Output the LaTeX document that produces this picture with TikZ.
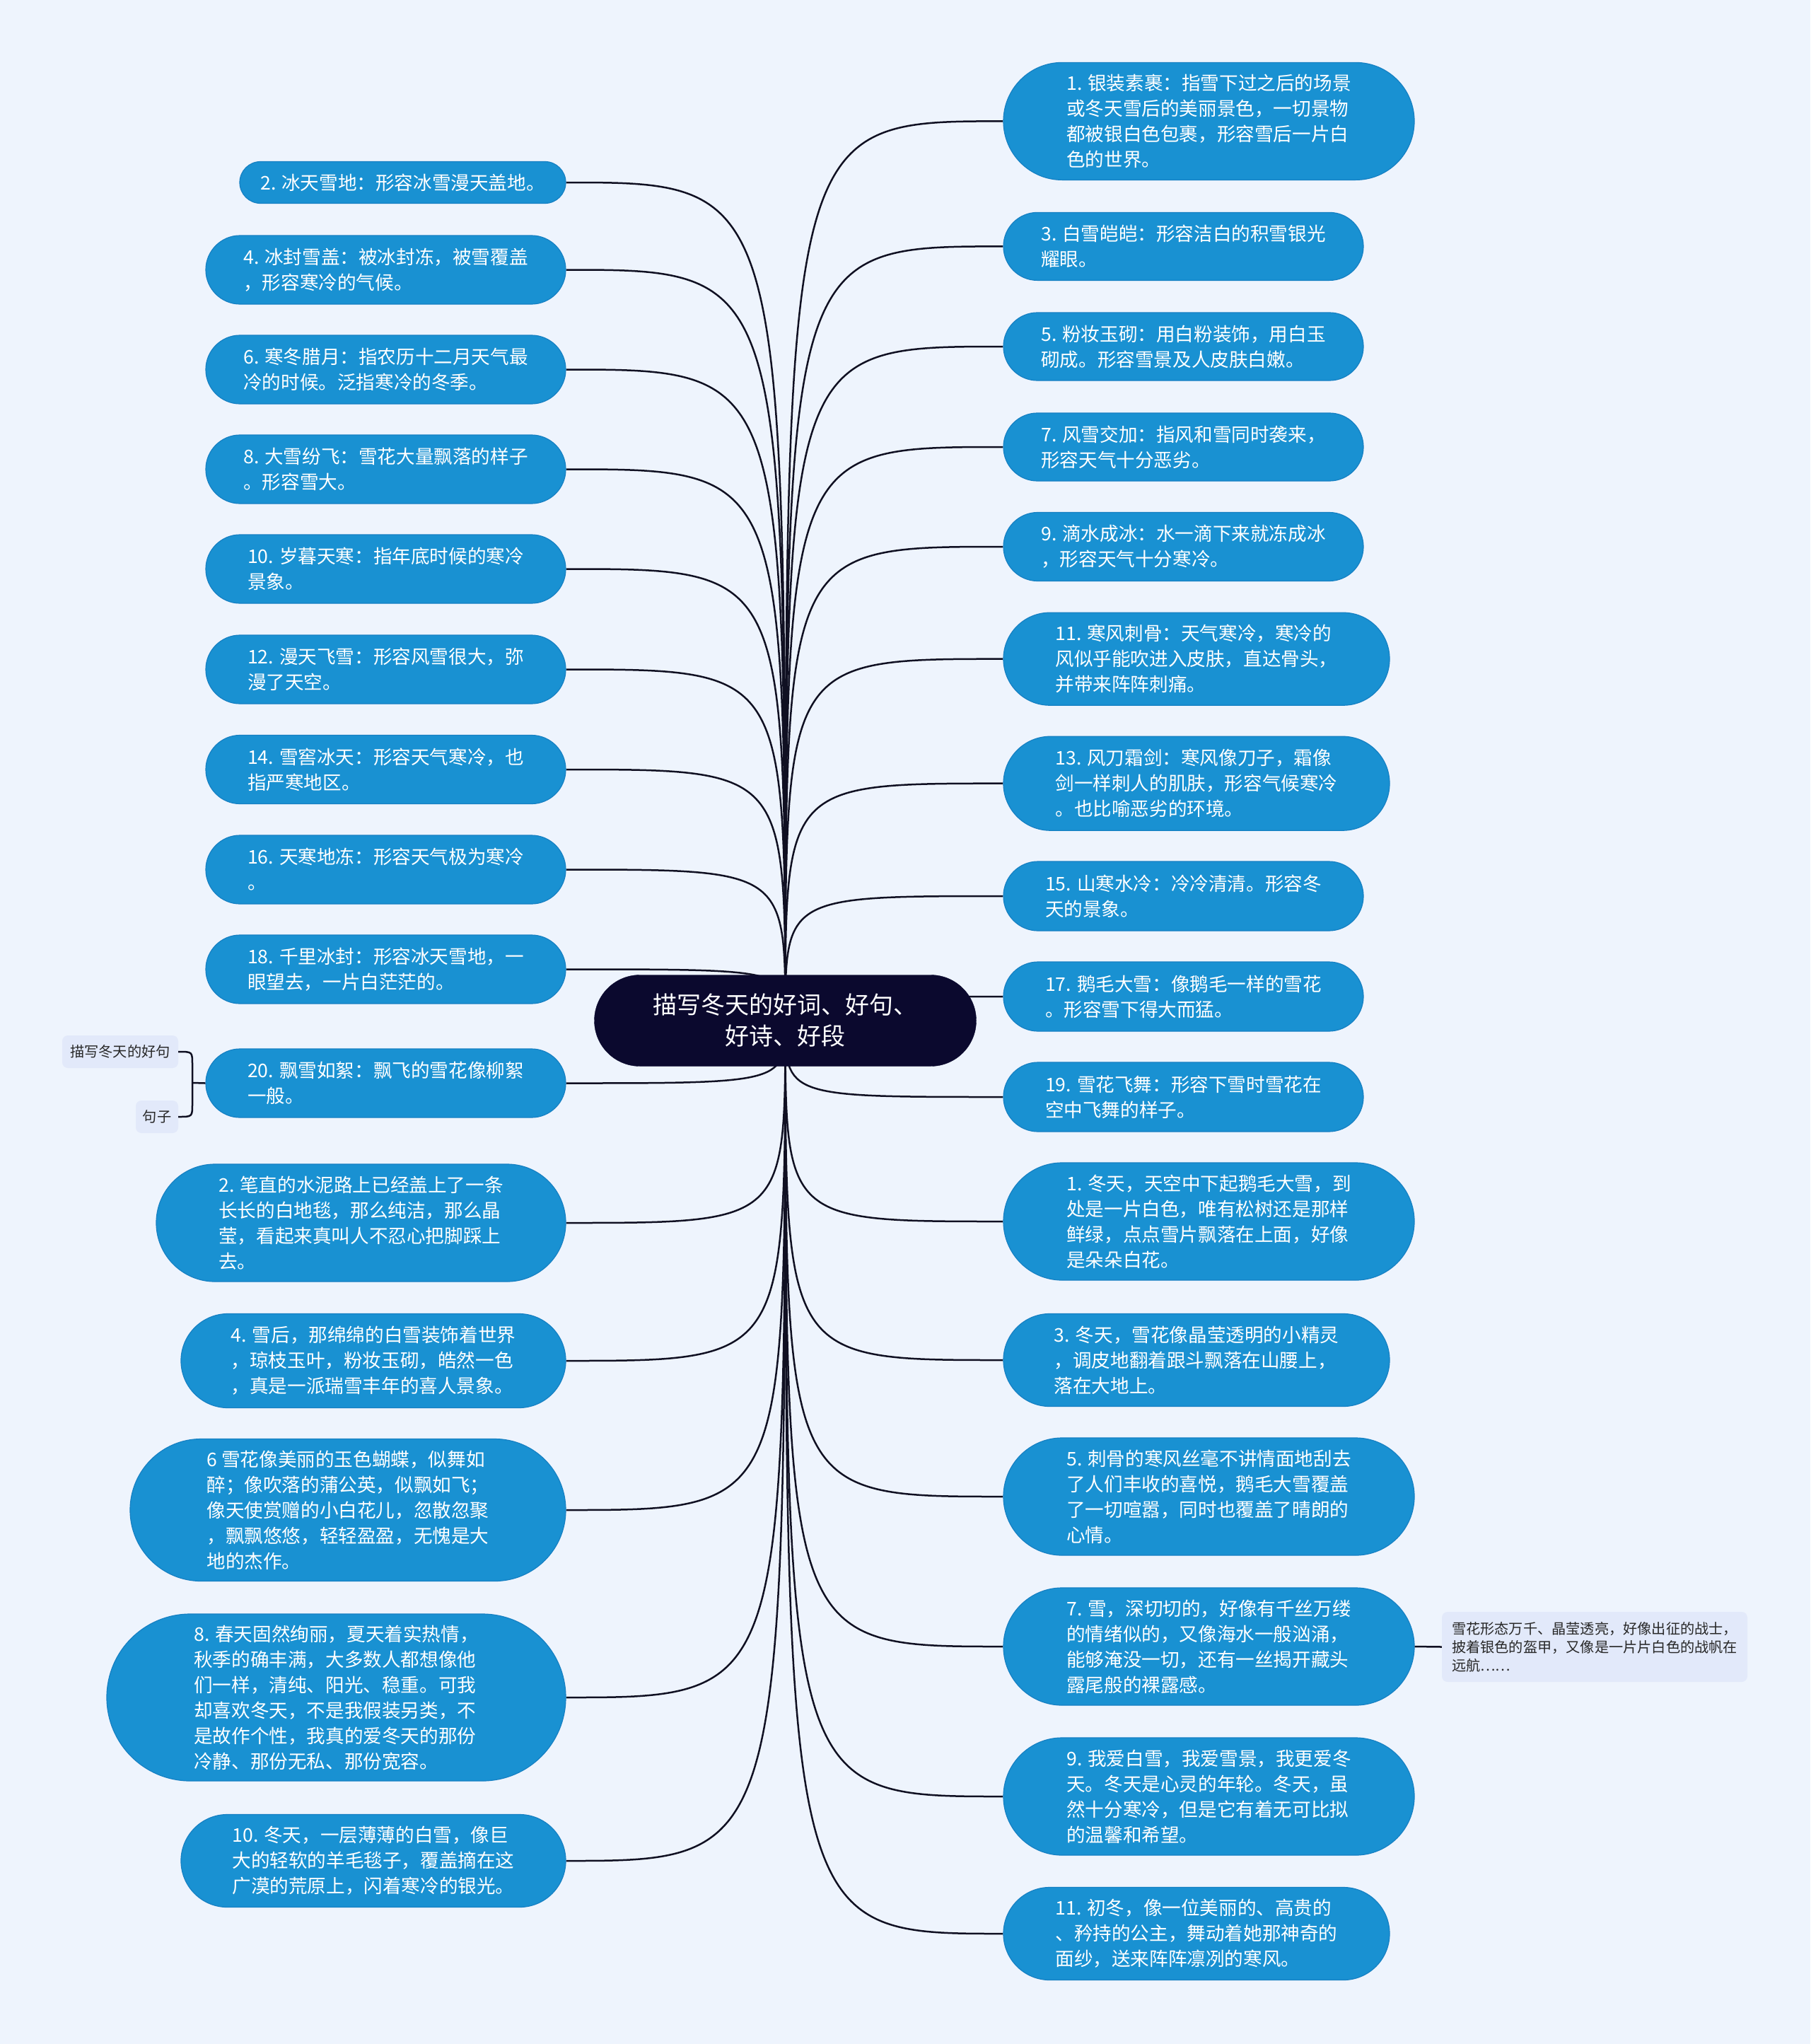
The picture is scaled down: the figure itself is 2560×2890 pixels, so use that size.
\documentclass[tikz,border=0pt]{standalone}
\usepackage{fontspec}
\newfontfamily\cjk{Noto Sans CJK SC}
\usetikzlibrary{backgrounds,calc}
\definecolor{bgc}{RGB}{238,244,253}
\definecolor{nodeblue}{RGB}{25,145,210}
\definecolor{nodeedge}{RGB}{22,128,195}
\definecolor{rootc}{RGB}{11,9,46}
\definecolor{attc}{RGB}{226,233,250}
\definecolor{attt}{RGB}{40,40,40}
\definecolor{linec}{RGB}{16,16,34}
\begin{document}
\begin{tikzpicture}[x=1pt,y=-1pt,
  leaf/.style={fill=nodeblue, draw=nodeedge, line width=1.2pt, text=white, align=left, inner sep=0pt,
    font=\cjk\fontsize{26.6}{36}\selectfont},
  pill/.style n args={3}{minimum width=#1pt, minimum height=#2pt, rounded corners=#3pt},
  rootbox/.style={fill=rootc, draw=rootc, text=white, align=center, inner sep=0pt,
    font=\cjk\fontsize{34}{44}\selectfont},
  attbox/.style={fill=attc, draw=none, text=attt, align=left, inner sep=0pt, rounded corners=8pt,
    font=\cjk\fontsize{20.2}{26}\selectfont},
  conn/.style={draw=linec, line width=2.5pt}]
\useasboundingbox (0,0) rectangle (2560,2890);

% root
\node[rootbox, pill={540}{129}{64.5}] (c) at (1110.5,1443) {描写冬天的好词、好句、\\好诗、好段};

% left words
\node[leaf, pill={461}{59}{29.5}] (L1) at (569.5,258) {2. 冰天雪地：形容冰雪漫天盖地。};
\node[leaf, pill={509}{97}{48.5}] (L2) at (545.5,381.5) {4. 冰封雪盖：被冰封冻，被雪覆盖\\，形容寒冷的气候。};
\node[leaf, pill={509}{97}{48.5}] (L3) at (545.5,522.5) {6. 寒冬腊月：指农历十二月天气最\\冷的时候。泛指寒冷的冬季。};
\node[leaf, pill={509}{97}{48.5}] (L4) at (545.5,663.5) {8. 大雪纷飞：雪花大量飘落的样子\\。形容雪大。};
\node[leaf, pill={509}{97}{48.5}] (L5) at (545.5,804.5) {10. 岁暮天寒：指年底时候的寒冷\\景象。};
\node[leaf, pill={509}{97}{48.5}] (L6) at (545.5,946.5) {12. 漫天飞雪：形容风雪很大，弥\\漫了天空。};
\node[leaf, pill={509}{97}{48.5}] (L7) at (545.5,1088) {14. 雪窖冰天：形容天气寒冷，也\\指严寒地区。};
\node[leaf, pill={509}{97}{48.5}] (L8) at (545.5,1229.5) {16. 天寒地冻：形容天气极为寒冷\\。};
\node[leaf, pill={509}{97}{48.5}] (L9) at (545.5,1370.5) {18. 千里冰封：形容冰天雪地，一\\眼望去，一片白茫茫的。};
\node[leaf, pill={509}{97}{48.5}] (L10) at (545.5,1531.5) {20. 飘雪如絮：飘飞的雪花像柳絮\\一般。};

% left sentences
\node[leaf, pill={579}{166}{83}] (S2) at (510.5,1729) {2. 笔直的水泥路上已经盖上了一条\\长长的白地毯，那么纯洁，那么晶\\莹，看起来真叫人不忍心把脚踩上\\去。};
\node[leaf, pill={544}{133}{66.5}] (S4) at (528,1924) {4. 雪后，那绵绵的白雪装饰着世界\\，琼枝玉叶，粉妆玉砌，皓然一色\\，真是一派瑞雪丰年的喜人景象。};
\node[leaf, pill={616}{201}{100.5}] (S6) at (492,2135) {6 雪花像美丽的玉色蝴蝶，似舞如\\醉；像吹落的蒲公英，似飘如飞；\\像天使赏赠的小白花儿，忽散忽聚\\，飘飘悠悠，轻轻盈盈，无愧是大\\地的杰作。};
\node[leaf, pill={649}{236}{118}] (S8) at (475.5,2400) {8. 春天固然绚丽，夏天着实热情，\\秋季的确丰满，大多数人都想像他\\们一样，清纯、阳光、稳重。可我\\却喜欢冬天，不是我假装另类，不\\是故作个性，我真的爱冬天的那份\\冷静、那份无私、那份宽容。};
\node[leaf, pill={544}{131}{65.5}] (S10) at (528,2631) {10. 冬天，一层薄薄的白雪，像巨\\大的轻软的羊毛毯子，覆盖摘在这\\广漠的荒原上，闪着寒冷的银光。};

% right words
\node[leaf, pill={581}{166}{83}] (R1) at (1709.5,171.4) {1. 银装素裹：指雪下过之后的场景\\或冬天雪后的美丽景色，一切景物\\都被银白色包裹，形容雪后一片白\\色的世界。};
\node[leaf, pill={509}{96}{48}] (R3) at (1673.5,348.4) {3. 白雪皑皑：形容洁白的积雪银光\\耀眼。};
\node[leaf, pill={509}{96}{48}] (R5) at (1673.5,490) {5. 粉妆玉砌：用白粉装饰，用白玉\\砌成。形容雪景及人皮肤白嫩。};
\node[leaf, pill={509}{96}{48}] (R7) at (1673.5,632) {7. 风雪交加：指风和雪同时袭来，\\形容天气十分恶劣。};
\node[leaf, pill={509}{97}{48.5}] (R9) at (1673.5,773) {9. 滴水成冰：水一滴下来就冻成冰\\，形容天气十分寒冷。};
\node[leaf, pill={546}{131}{65.5}] (R11) at (1692,931.7) {11. 寒风刺骨：天气寒冷，寒冷的\\风似乎能吹进入皮肤，直达骨头，\\并带来阵阵刺痛。};
\node[leaf, pill={546}{133}{66.5}] (R13) at (1692,1107.7) {13. 风刀霜剑：寒风像刀子，霜像\\剑一样刺人的肌肤，形容气候寒冷\\。也比喻恶劣的环境。};
\node[leaf, pill={509}{98}{49}] (R15) at (1673.5,1267) {15. 山寒水冷：冷冷清清。形容冬\\天的景象。};
\node[leaf, pill={509}{98}{49}] (R17) at (1673.5,1409) {17. 鹅毛大雪：像鹅毛一样的雪花\\。形容雪下得大而猛。};
\node[leaf, pill={509}{98}{49}] (R19) at (1673.5,1551) {19. 雪花飞舞：形容下雪时雪花在\\空中飞舞的样子。};

% right sentences
\node[leaf, pill={581}{166}{83}] (RS1) at (1709.5,1727) {1. 冬天，天空中下起鹅毛大雪，到\\处是一片白色，唯有松树还是那样\\鲜绿，点点雪片飘落在上面，好像\\是朵朵白花。};
\node[leaf, pill={546}{131}{65.5}] (RS3) at (1692,1923) {3. 冬天，雪花像晶莹透明的小精灵\\，调皮地翻着跟斗飘落在山腰上，\\落在大地上。};
\node[leaf, pill={581}{166}{83}] (RS5) at (1709.5,2116) {5. 刺骨的寒风丝毫不讲情面地刮去\\了人们丰收的喜悦，鹅毛大雪覆盖\\了一切喧嚣，同时也覆盖了晴朗的\\心情。};
\node[leaf, pill={581}{166}{83}] (RS7) at (1709.5,2328) {7. 雪，深切切的，好像有千丝万缕\\的情绪似的，又像海水一般汹涌，\\能够淹没一切，还有一丝揭开藏头\\露尾般的裸露感。};
\node[leaf, pill={581}{166}{83}] (RS9) at (1709.5,2540) {9. 我爱白雪，我爱雪景，我更爱冬\\天。冬天是心灵的年轮。冬天，虽\\然十分寒冷，但是它有着无可比拟\\的温馨和希望。};
\node[leaf, pill={546}{131}{65.5}] (RS11) at (1692,2734) {11. 初冬，像一位美丽的、高贵的\\、矜持的公主，舞动着她那神奇的\\面纱，送来阵阵凛冽的寒风。};

% attachments
\node[attbox, minimum width=164pt, minimum height=46pt] (A1) at (170,1487) {描写冬天的好句};
\node[attbox, minimum width=60pt, minimum height=46pt] (A2) at (222,1579) {句子};
\node[attbox, minimum width=432pt, minimum height=99pt] (A3) at (2255,2328.5) {雪花形态万千、晶莹透亮，好像出征的战士，\\披着银色的盔甲，又像是一片片白色的战帆在\\远航……};
\coordinate (bj) at (272,1531);

\begin{scope}[on background layer]
  \fill[bgc] (0,0) rectangle (2560,2890);
  \foreach \n in {L1,L2,L3,L4,L5,L6,L7,L8,L9,L10,S2,S4,S6,S8,S10}
    \draw[conn] (c.center) .. controls (c.center |- \n.east) .. (\n.east);
  \foreach \n in {R1,R3,R5,R7,R9,R11,R13,R15,R17,R19,RS1,RS3,RS5,RS7,RS9,RS11}
    \draw[conn] (c.center) .. controls (c.center |- \n.west) .. (\n.west);
\end{scope}

\draw[conn] (A1.east) .. controls (bj |- A1.east) .. ($(bj |- A1.east)+(0,18)$)
  -- ($(bj |- A2.east)+(0,-18)$) .. controls (bj |- A2.east) .. (A2.east);
\draw[conn] (bj) -- (L10.west);
\draw[conn] (RS7.east) -- (A3.west);
\end{tikzpicture}
\end{document}
